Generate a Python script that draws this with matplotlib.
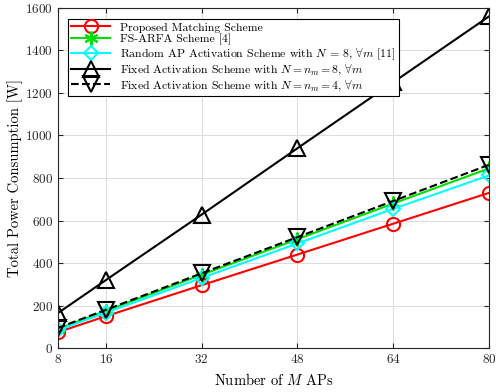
import matplotlib
matplotlib.use('Agg')
import matplotlib.pyplot as plt

plt.rcParams['font.family'] = 'serif'
plt.rcParams['font.serif'] = ['cmr10', 'DejaVu Serif']
plt.rcParams['mathtext.fontset'] = 'cm'
plt.rcParams['axes.formatter.use_mathtext'] = True

num_aps = [8, 16, 32, 48, 64, 80]
proposed = [75, 150, 296, 440, 585, 730]
fs_arfa = [90, 175, 345, 512, 680, 845]
random_ap = [85, 167, 330, 492, 655, 812]
fixed_8 = [165, 320, 628, 940, 1250, 1560]
fixed_4 = [95, 180, 352, 522, 692, 862]

fig = plt.figure(figsize=(4.96, 3.92), dpi=100)
ax = fig.add_axes([0.117, 0.112, 0.869, 0.868])

ax.plot(num_aps, proposed, '-o', color='red', lw=1.5, ms=9.5, mfc='none', mew=1.5,
        label='Proposed Matching Scheme')
ax.plot(num_aps, fs_arfa, '-', marker=(6, 2, 0), color='#00e000', lw=1.5, ms=10, mew=1.5,
        label='FS-ARFA Scheme [4]')
ax.plot(num_aps, random_ap, '-D', color='cyan', lw=1.5, ms=7.5, mfc='none', mew=1.5,
        label=r'Random AP Activation Scheme with $N$ = 8, $\forall m$ [11]')
ax.plot(num_aps, fixed_8, '-^', color='black', lw=1.5, ms=11, mfc='none', mew=1.5,
        label=r'Fixed Activation Scheme with $N = n_m = 8$, $\forall m$')
ax.plot(num_aps, fixed_4, '--v', color='black', lw=1.5, ms=11, mfc='none', mew=1.5,
        label=r'Fixed Activation Scheme with $N = n_m = 4$, $\forall m$')

ax.set_xlim(8, 80)
ax.set_ylim(0, 1600)
ax.set_xticks(num_aps)
ax.set_yticks(range(0, 1601, 200))
ax.grid(True, color='#dddddd', lw=0.8)
ax.set_axisbelow(True)
ax.tick_params(direction='in', top=True, right=True, labelsize=9.5, colors='#262626')
for s in ax.spines.values():
    s.set_color('#262626')
ax.set_xlabel(r'Number of $M$ APs', fontsize=10.5)
ax.set_ylabel('Total Power Consumption [W]', fontsize=10.5, labelpad=2)

leg = ax.legend(loc='upper left', bbox_to_anchor=(0.023, 0.968), borderaxespad=0,
                fontsize=8.5, handlelength=3.3, fancybox=False,
                edgecolor='black', framealpha=1,
                labelspacing=0.1, borderpad=0.3)
leg.get_frame().set_linewidth(0.8)

fig.savefig('out.png', dpi=100)
